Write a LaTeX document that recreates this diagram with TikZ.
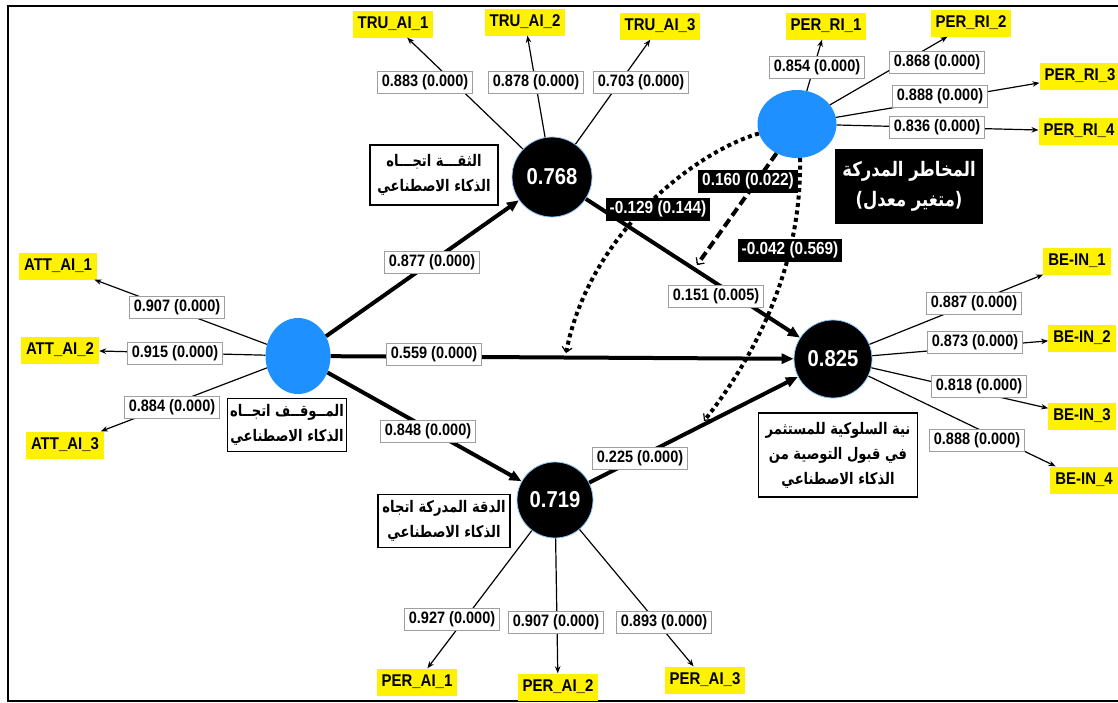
\documentclass[tikz,border=0pt]{standalone}
\usepackage{fontspec}
\setmainfont{Liberation Sans}[FakeStretch=0.88]
\newfontfamily\arabicfont[Script=Arabic,FakeStretch=0.82]{DejaVu Sans}
\TeXXeTstate=1
\usetikzlibrary{shapes.geometric,arrows.meta}
\definecolor{latblue}{RGB}{30,144,255}
\begin{document}
\begin{tikzpicture}[x=1pt,y=-1pt,
  blue node/.style={ellipse,fill=latblue,inner sep=0pt},
  black node/.style={circle,fill=black,draw=latblue!50,line width=0.8pt,text=white,inner sep=0pt,font=\bfseries\fontsize{23}{25}\selectfont},
  item node/.style={fill=yellow,inner xsep=5pt,inner ysep=0pt,minimum height=27pt,font=\bfseries\fontsize{17}{19}\selectfont},
  load label/.style={draw=gray!75,fill=white,line width=0.9pt,inner xsep=4pt,inner ysep=0pt,minimum height=22pt,font=\bfseries\fontsize{16.5}{18}\selectfont},
  path label/.style={fill=black,text=white,inner xsep=4pt,inner ysep=0pt,minimum height=23pt,font=\bfseries\fontsize{17.5}{19}\selectfont},
  name box/.style={draw,line width=1.6pt,fill=white,align=center,inner sep=2pt,font=\arabicfont\bfseries\fontsize{16}{25}\selectfont},
  load/.style={-{Stealth[length=7pt,width=5.5pt]},line width=1.2pt},
  effect/.style={-{Triangle[length=12pt,width=10pt]},line width=4pt},
  mod dots/.style={line width=4pt,dash pattern=on 4pt off 3.5pt,-{Straight Barb[length=5pt,width=10pt,line width=1.2pt]}},
  mod dash/.style={line width=4pt,dash pattern=on 9pt off 4.5pt,-{Straight Barb[length=5pt,width=10pt,line width=1.2pt]}}
  ]
  \useasboundingbox (0,0) rectangle (1118,702);
  \draw[line width=2.5pt] (1130,6) -- (8,6) -- (8,701) -- (1130,701);

  % latent variables
  \node[blue node,minimum width=65pt,minimum height=76pt] (ATT) at (298,356) {};
  \node[black node,minimum size=80pt] (TRU) at (552,177) {0.768};
  \node[black node,minimum size=76pt] (ACC) at (555,500) {0.719};
  \node[black node,minimum size=78pt] (BEH) at (833,359) {0.825};
  \node[blue node,minimum width=79pt,minimum height=68pt] (RSK) at (797,124) {};

  % indicators
  \foreach \n/\t/\px/\py in {tru1/TRU\_AI\_1/393/24, tru2/TRU\_AI\_2/525/22, tru3/TRU\_AI\_3/660/26,
      rsk1/PER\_RI\_1/826/26, rsk2/PER\_RI\_2/971/23, rsk3/PER\_RI\_3/1080/76, rsk4/PER\_RI\_4/1079/131,
      att1/ATT\_AI\_1/58/266, att2/ATT\_AI\_2/60/350, att3/ATT\_AI\_3/65/445,
      beh1/BE-IN\_1/1077/261, beh2/BE-IN\_2/1082/338, beh3/BE-IN\_3/1082/416, beh4/BE-IN\_4/1084/480,
      acc1/PER\_AI\_1/417/682, acc2/PER\_AI\_2/558/687, acc3/PER\_AI\_3/705/680}
    \node[item node] (\n) at (\px,\py) {\t};

  % outer loadings
  \foreach \lv/\ind/\val/\px/\py in {TRU/tru1/0.883/425/82, TRU/tru2/0.878/536/82, TRU/tru3/0.703/641/82,
      RSK/rsk1/0.854/817/67, RSK/rsk2/0.868/937/62, RSK/rsk3/0.888/940/96, RSK/rsk4/0.836/937/127,
      ATT/att1/0.907/177/307, ATT/att2/0.915/175/353, ATT/att3/0.884/172/407,
      BEH/beh1/0.887/974/303, BEH/beh2/0.873/975/342, BEH/beh3/0.818/979/386, BEH/beh4/0.888/977/440,
      ACC/acc1/0.927/452/619, ACC/acc2/0.907/556/622, ACC/acc3/0.893/664/622}
  {
    \draw[load] (\lv) -- (\ind);
    \node[load label] (l-\ind) at (\px,\py) {\val\ (0.000)};
  }

  % structural paths
  \draw[effect] (ATT) -- (TRU);
  \draw[effect] (ATT) -- (BEH);
  \draw[effect] (ATT) -- (ACC);
  \draw[effect] (TRU) -- (BEH);
  \draw[effect] (ACC) -- (BEH);

  % moderation
  \coordinate (m1) at (566,353);
  \coordinate (m2) at (697,265);
  \coordinate (m3) at (704,421);
  \draw[mod dots] (RSK.194) .. controls (700,150) and (590,230) .. (m1);
  \draw[mod dash] (RSK.235) -- (m2);
  \draw[mod dots] (RSK.275) .. controls (802,260) and (760,350) .. (m3);

  \node[load label] (p-tru) at (432,262) {0.877 (0.000)};
  \node[load label] (p-beh) at (434,354) {0.559 (0.000)};
  \node[load label] (p-acc) at (428,431) {0.848 (0.000)};
  \node[load label] (p-trubeh) at (716,296) {0.151 (0.005)};
  \node[load label] (p-accbeh) at (640,458) {0.225 (0.000)};
  \node[path label] (q-att) at (658,209) {-0.129 (0.144)};
  \node[path label] (q-tru) at (748,181) {0.160 (0.022)};
  \node[path label] (q-acc) at (790,250) {-0.042 (0.569)};

  % construct names
  \node[name box,minimum width=128pt,minimum height=60pt] (TRUname) at (434,175)
    {\beginR الثقـــة اتجـــاه\endR\\\beginR الذكاء الاصطناعي\endR};
  \node[name box,minimum width=119pt,minimum height=53pt] (ATTname) at (287,425)
    {\beginR المــوقــف اتجــاه\endR\\\beginR الذكاء الاصطناعي\endR};
  \node[name box,minimum width=132pt,minimum height=53pt] (ACCname) at (444,521)
    {\beginR الدقة المدركة اتجاه\endR\\\beginR الذكاء الاصطناعي\endR};
  \node[name box,minimum width=159pt,minimum height=84pt] (BEHname) at (838,455)
    {\beginR نية السلوكية للمستثمر\endR\\\beginR في قبول التوصية من\endR\\\beginR الذكاء الاصطناعي\endR};
  \node[name box,draw=none,fill=black,text=white,minimum width=148pt,minimum height=75pt,font=\arabicfont\bfseries\fontsize{20}{30}\selectfont] (RSKname) at (909,186)
    {\beginR المخاطر المدركة\endR\\\beginR (متغير معدل)\endR};
\end{tikzpicture}
\end{document}
